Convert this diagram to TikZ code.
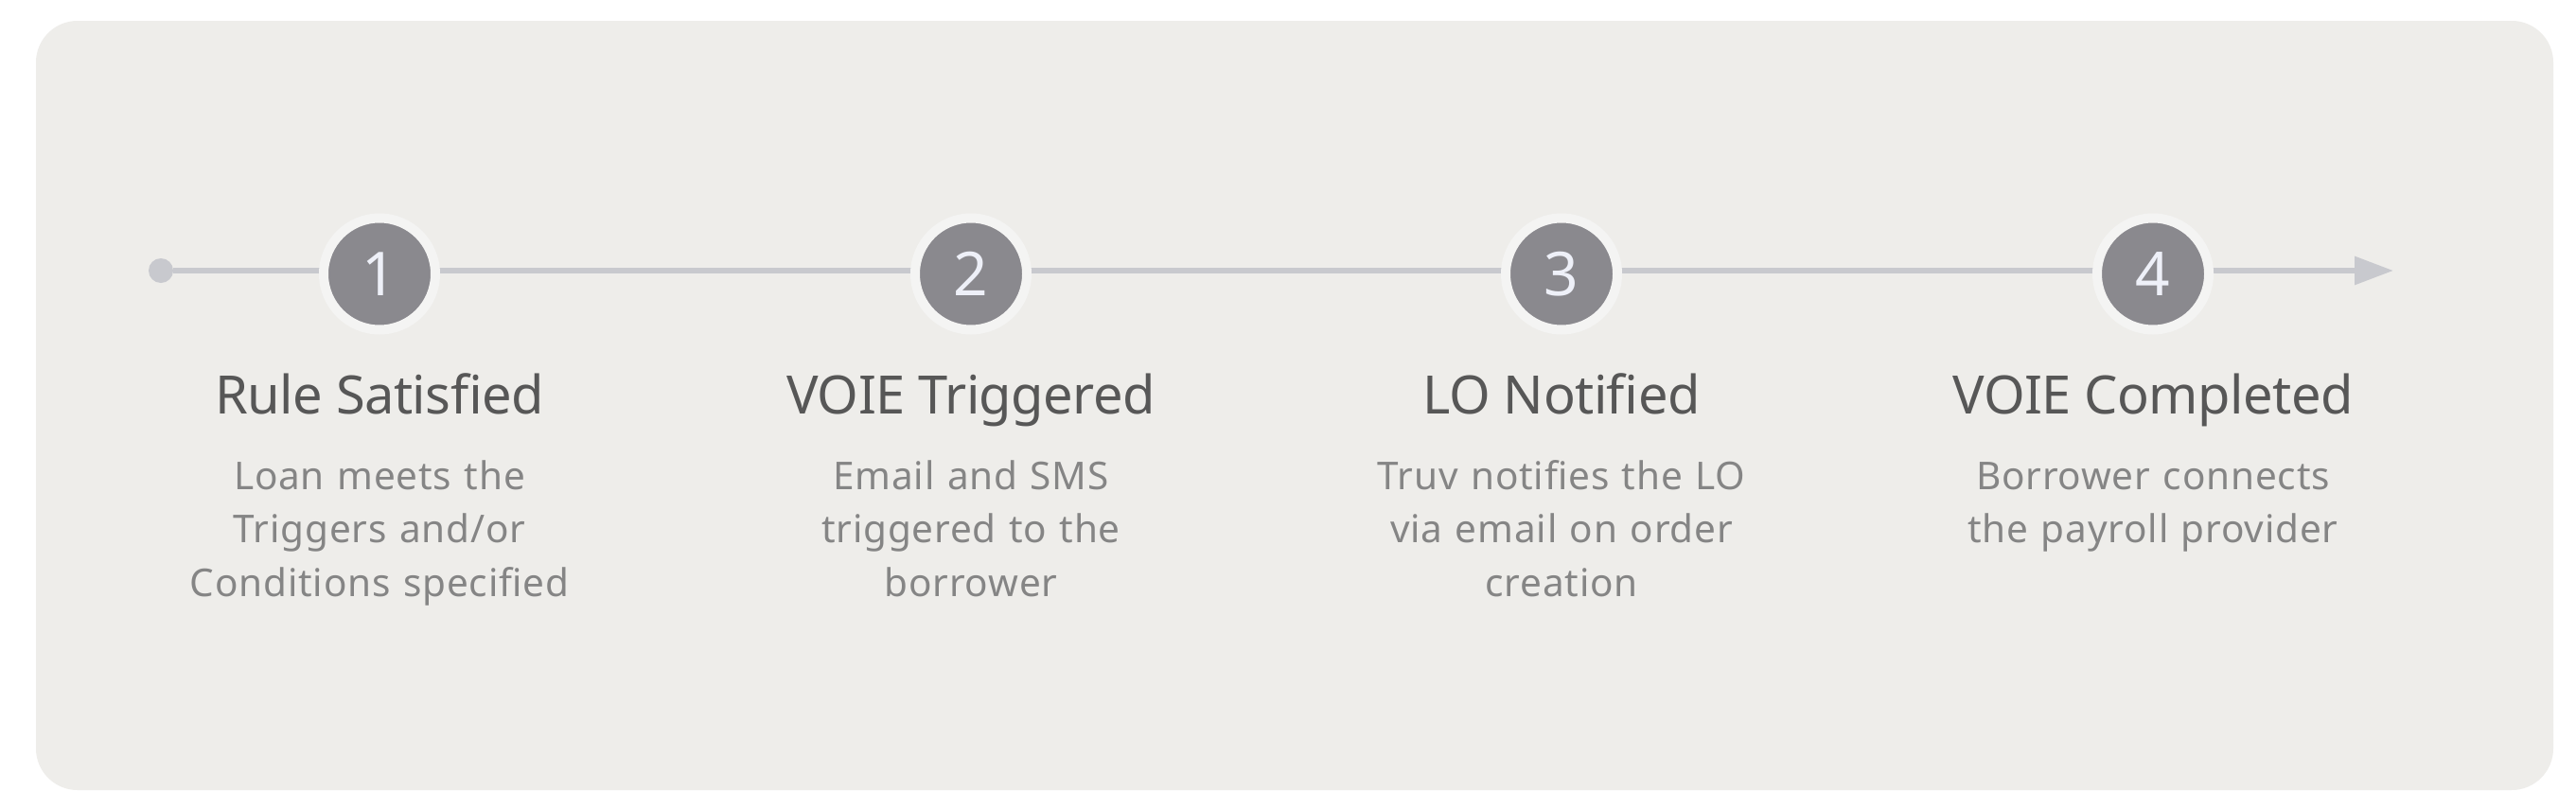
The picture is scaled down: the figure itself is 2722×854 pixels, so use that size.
\documentclass[tikz,border=0pt]{standalone}
\usepackage{fontspec}
\setmainfont{Noto Sans}
\usetikzlibrary{arrows.meta,positioning}

\definecolor{panelbg}{HTML}{EEEDEA}
\definecolor{ringcol}{HTML}{F4F4F3}
\definecolor{stepgrey}{HTML}{8A898E}
\definecolor{linecol}{HTML}{C8C9CE}
\definecolor{digitcol}{HTML}{EEF0F8}
\definecolor{titlecol}{HTML}{575757}
\definecolor{desccol}{HTML}{858585}

\tikzset{
  stepdot/.style={circle, fill=stepgrey, draw=ringcol, line width=10pt,
    minimum size=118pt, inner sep=0pt, text=digitcol,
    font=\fontsize{64}{64}\selectfont},
  steptitle/.style={anchor=base, text=titlecol, inner sep=0pt,
    font=\fontsize{56}{60}\selectfont\addfontfeature{LetterSpace=-1}},
  stepdesc/.style={anchor=base, text=desccol, inner sep=0pt,
    text width=480pt, align=center,
    font=\fontsize{40.5}{56.5}\selectfont\addfontfeature{LetterSpace=2}},
}

\begin{document}
\begin{tikzpicture}[x=1pt,y=-1pt]
    \useasboundingbox (0,0) rectangle (2722,854);
    \fill[white] (0,0) rectangle (2722,854);
    \fill[panelbg, rounded corners=44pt] (38,22) rectangle (2698,835);

    % timeline
    \node[circle, fill=linecol, minimum size=26pt, inner sep=0pt] (start) at (170,286) {};
    \coordinate (tip) at (2529,286);
    \draw[linecol, line width=6pt, -{Triangle[length=41pt,width=29pt]}] (start) -- (tip);

    % steps
    \foreach \x/\n/\ttl/\dsc in {
        401/1/Rule Satisfied/{Loan meets the\\Triggers and/or\\Conditions specified},
        1026/2/VOIE Triggered/{Email and SMS\\triggered to the\\borrower},
        1650/3/LO Notified/{Truv notifies the LO\\via email on order\\creation},
        2275/4/VOIE Completed/{Borrower connects\\the payroll provider}} {
        \node[stepdot] (c\n) at (\x,289.5) {\n};
        \node[steptitle] (t\n) at (\x,437) {\ttl};
        \node[stepdesc] (d\n) at (\x,517) {\dsc};
    }
\end{tikzpicture}
\end{document}
